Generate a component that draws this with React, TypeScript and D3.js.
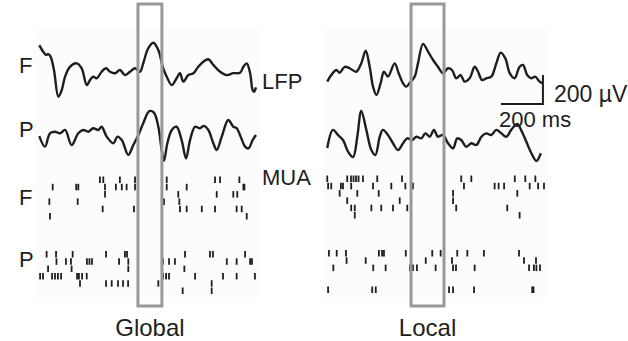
import React from 'react';
import * as d3 from 'd3';

// LFP traces: [time ms, amplitude µV]
const globalLfpF = [
    [6, 172], [25, 126], [38, 104], [49, 110], [60, 92], [76, 0], [97, -184], [113, -138], [129, -46], [152, 22],
    [184, 46], [208, 12], [232, -104], [248, -69], [263, -46], [280, -57], [303, -12], [324, 12], [343, -12], [367, -22],
    [390, 0], [414, -35], [438, -12], [462, 12], [486, -12], [501, 46], [525, 150], [549, 188], [573, 138], [594, 22],
    [613, -46], [637, -104], [660, -57], [676, -22], [692, -80], [716, -35], [740, -22], [763, 22], [787, 57], [811, 74],
    [835, 35], [867, -12], [899, -35], [930, -22], [962, -19], [978, 22], [994, 46], [1010, -22], [1022, -138], [1029, -150],
    [1038, -120]
];
const globalLfpP = [
    [6, -21], [33, -94], [57, -2], [81, 9], [105, -2], [129, 21], [160, -83], [192, -2], [216, 21], [240, 9],
    [263, 33], [287, 21], [303, 43], [327, -25], [359, -71], [378, -25], [399, -49], [430, -151], [454, -83], [478, -14],
    [501, 67], [530, 151], [552, 140], [573, 43], [589, -117], [600, -191], [616, -71], [637, 21], [660, 43], [684, -49],
    [705, -175], [724, -49], [748, 43], [771, 33], [790, 49], [811, 21], [835, -71], [851, -117], [875, -25], [906, 90],
    [930, 43], [946, 33], [965, -25], [986, -94], [1002, -106], [1022, -49], [1038, -14]
];
const localLfpF = [
    [6, -80], [25, -35], [49, 0], [65, -19], [89, 22], [113, 12], [144, -12], [168, 46], [189, 133], [208, 22],
    [224, -115], [240, -172], [260, -92], [276, -12], [295, -46], [327, 46], [346, -22], [367, -92], [382, -115], [399, -88],
    [422, -46], [438, 46], [462, 180], [486, 126], [510, 69], [533, 22], [557, -22], [581, 12], [600, 0], [620, -57],
    [641, -35], [660, -80], [684, -57], [708, 22], [724, -12], [743, -69], [763, -57], [787, -46], [811, 46], [832, 120],
    [854, 80], [875, -22], [898, -57], [922, 22], [938, 35], [958, -35], [977, -57], [996, -46], [1017, -80], [1033, -92]
];
const localLfpP = [
    [6, -76], [33, 49], [57, 14], [81, -21], [105, -101], [129, -138], [149, 2], [168, 180], [192, 49], [216, -90],
    [235, -124], [256, 2], [271, 49], [295, 14], [319, -43], [343, -90], [367, -43], [387, -9], [410, -21], [430, 2],
    [454, -9], [473, 25], [494, 2], [514, 49], [533, 2], [557, 14], [581, -43], [605, -78], [625, -9], [644, -21],
    [668, -67], [692, -43], [716, -55], [740, 2], [763, 25], [787, 14], [811, 49], [835, 25], [859, 2], [882, 49],
    [911, 90], [933, 36], [954, -33], [978, -112], [1002, -165], [1023, -112]
];

// MUA rasters: [time ms, trial]
const globalMuaF = [
    [70, 1], [54, 3], [57, 5], [182, 1], [192, 1], [189, 3], [295, 0], [311, 0], [319, 1], [319, 2], [308, 4],
    [371, 1], [390, 0], [399, 1], [422, 1], [462, 0], [462, 1], [457, 4], [600, 3], [613, 0], [613, 1], [668, 2],
    [673, 3], [708, 1], [676, 4], [708, 4], [780, 4], [843, 0], [867, 0], [851, 2], [843, 4], [930, 2], [949, 2],
    [959, 0], [978, 1], [983, 1], [946, 4], [970, 4], [994, 5]
];
const globalMuaP = [
    [41, 0], [86, 0], [165, 0], [324, 0], [414, 0], [424, 0], [700, 0], [819, 0], [833, 0], [986, 0],
    [88, 1], [133, 1], [157, 1], [233, 1], [245, 1], [257, 1], [386, 1], [430, 1], [595, 1], [624, 1], [652, 1],
    [899, 1], [946, 1], [1010, 1], [1019, 1],
    [48, 2], [160, 2], [430, 2], [697, 2],
    [10, 3], [24, 3], [67, 3], [81, 3], [95, 3], [110, 3], [186, 3], [195, 3], [210, 3], [232, 3], [595, 3],
    [610, 3], [624, 3], [748, 3], [881, 3], [946, 3], [1033, 3],
    [200, 4], [324, 4], [351, 4], [381, 4], [405, 4], [429, 4], [573, 4], [827, 4],
    [689, 5], [827, 5]
];
const localMuaF = [
    [6, 0], [101, 0], [119, 0], [131, 0], [143, 0], [155, 0], [176, 0], [244, 0], [362, 0], [644, 0], [692, 0],
    [899, 0], [949, 0], [997, 0],
    [10, 1], [25, 1], [71, 1], [81, 1], [120, 1], [224, 1], [311, 1], [378, 1], [414, 1], [657, 1], [803, 1],
    [822, 1], [848, 1], [970, 1], [1010, 1], [1038, 1],
    [65, 2], [149, 2], [251, 2], [605, 2], [911, 2],
    [101, 3], [351, 3], [605, 3],
    [120, 4], [137, 4], [216, 4], [263, 4], [319, 4], [387, 4], [620, 4], [863, 4],
    [137, 5], [922, 5]
];
const localMuaP = [
    [14, 0], [51, 0], [95, 0], [252, 0], [267, 0], [276, 0], [380, 0], [506, 0], [546, 0], [625, 0], [673, 0],
    [752, 0], [919, 0],
    [98, 1], [189, 1], [475, 1], [600, 1], [943, 1], [1000, 1],
    [35, 2], [225, 2], [284, 2], [400, 2], [414, 2], [433, 2], [522, 2], [605, 2], [619, 2], [708, 2], [967, 2],
    [990, 2], [1002, 2], [1019, 2],
    [10, 5], [220, 5], [237, 5], [586, 5], [605, 5], [705, 5], [982, 5], [988, 5]
];

// highlighted windows (ms)
const globalWindow = [476, 590];
const localWindow = [405, 562];

// scale bar: 200 ms x 200 µV
const scaleBarMs = 200;
const scaleBarUv = 200;

const FONT = '"Liberation Sans", Arial, Helvetica, sans-serif';
const INK = '#1e1e1e';

const panels = [
    { name: 'Global', x0: 38, lfpF: globalLfpF, lfpP: globalLfpP, muaF: globalMuaF, muaP: globalMuaP, win: globalWindow, fMid: 70, pMid: 133, fTop: 176.5, pTop: 251, bar: false },
    { name: 'Local', x0: 326, lfpF: localLfpF, lfpP: localLfpP, muaF: localMuaF, muaP: localMuaP, win: localWindow, fMid: 70, pMid: 137, fTop: 175.5, pTop: 250, bar: true }
];

const trialStep = 7.3;
const tickLen = 6.5;

function Panel(props: any) {
    const p = props.panel;
    const x = d3.scaleLinear().domain([0, 1050]).range([p.x0, p.x0 + 220.5]);
    const yF = d3.scaleLinear().domain([-200, 200]).range([p.fMid + 29, p.fMid - 29]);
    const yP = d3.scaleLinear().domain([-200, 200]).range([p.pMid + 29, p.pMid - 29]);
    const lineF = d3.line<number[]>().x(d => x(d[0])).y(d => yF(d[1])).curve(d3.curveCatmullRom.alpha(0.5));
    const lineP = d3.line<number[]>().x(d => x(d[0])).y(d => yP(d[1])).curve(d3.curveCatmullRom.alpha(0.5));

    const raster = (spikes: number[][], top: number, key: string) =>
        spikes.map((s, i) => (
            <line key={key + i} x1={x(s[0])} x2={x(s[0])} y1={top + s[1] * trialStep} y2={top + s[1] * trialStep + tickLen}
                stroke={INK} strokeWidth={1.8} />
        ));

    // scale bar corner, in the F trace's coordinates
    const barT = 1033, barV = -235;
    return (
        <g>
            <rect x={p.x0 - 4} y={28} width={226} height={270} fill="#fcfcfc" />
            <path d={lineF(p.lfpF) || ''} fill="none" stroke={INK} strokeWidth={2.4} strokeLinejoin="round" />
            <path d={lineP(p.lfpP) || ''} fill="none" stroke={INK} strokeWidth={2.4} strokeLinejoin="round" />
            <g>{raster(p.muaF, p.fTop, 'f')}</g>
            <g>{raster(p.muaP, p.pTop, 'p')}</g>
            <rect x={x(p.win[0])} y={4} width={x(p.win[1]) - x(p.win[0])} height={302} fill="none" stroke="#999" strokeWidth={3} />
            <text x={(x(p.win[0]) + x(p.win[1])) / 2} y={336} textAnchor="middle" fontSize={24} fill={INK} fontFamily={FONT}>{p.name}</text>
            {p.bar && (
                <g>
                    <path d={`M${x(barT - scaleBarMs)},${yF(barV)}H${x(barT)}V${yF(barV + scaleBarUv)}`} fill="none" stroke={INK} strokeWidth={2} />
                    <text x={554} y={102} fontSize={23} fill={INK} fontFamily={FONT}>200 µV</text>
                    <text x={499} y={127} fontSize={22} fill={INK} fontFamily={FONT}>200 ms</text>
                </g>
            )}
        </g>
    );
}

export default function App() {
    return (
        <div style={{ position: 'absolute', left: 0, top: 0 }}>
            <svg width={628} height={341} style={{ display: 'block', background: '#fff' }}>
                {panels.map(p => <Panel key={p.name} panel={p} />)}
                <g fontFamily={FONT} fontSize={22} fill={INK}>
                    <text x={19} y={73}>F</text>
                    <text x={19} y={137}>P</text>
                    <text x={262} y={89}>LFP</text>
                    <text x={262} y={185}>MUA</text>
                    <text x={19} y={205}>F</text>
                    <text x={19} y={267}>P</text>
                </g>
            </svg>
        </div>
    );
}
